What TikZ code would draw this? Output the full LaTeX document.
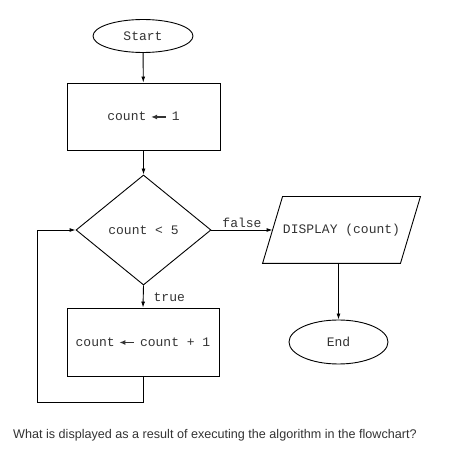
\documentclass[tikz,border=0pt]{standalone}
\usepackage{fontspec}
\setmonofont{Liberation Mono}
\newfontfamily\questionfont{Liberation Sans}
\usetikzlibrary{arrows.meta,shapes.geometric}

\definecolor{inkgray}{HTML}{333333}
\newcommand{\getsarrow}{\hspace{4pt}\tikz[baseline=-0.55ex]\draw[{Latex[length=6pt,width=5pt]}-, line width=1.4pt, inkgray] (0,0) -- (15pt,0);\hspace{5pt}}

\tikzset{
	chart/.style={draw, line width=0.9pt, inner sep=0pt, font=\ttfamily\fontsize{13}{15}\selectfont, text=inkgray},
	terminal/.style={chart, ellipse},
	process/.style={chart, rectangle},
	decision/.style={chart, diamond},
	inout/.style={chart, draw=none, rectangle},
	outline/.style={line width=0.9pt, line join=miter},
	flow/.style={->, line width=0.9pt},
	edgelabel/.style={font=\ttfamily\fontsize{13}{15}\selectfont, text=inkgray, inner sep=2pt}
}

\begin{document}
\begin{tikzpicture}[x=1pt, y=-1pt, >={Latex[length=6pt,width=4pt]}]
	\useasboundingbox (0,0) rectangle (472,462);
	% flowchart
	\node[terminal, minimum width=100, minimum height=33] (start) at (143,36) {Start};
	\node[process, minimum width=153, minimum height=67] (init) at (143.5,116.5) {count\getsarrow 1};
	\node[decision, minimum width=135, minimum height=110] (test) at (143.5,230) {count < 5};
	\node[process, minimum width=152, minimum height=68] (inc) at (143,342) {count\getsarrow count + 1};
	\node[inout, minimum width=137, minimum height=66] (disp) at (341.5,230) {DISPLAY (count)};
	\draw[outline] ([xshift=-10pt]disp.south west) -- ([xshift=10pt]disp.north west) -- ([xshift=10pt]disp.north east) -- ([xshift=-10pt]disp.south east) -- cycle;
	\node[terminal, minimum width=99, minimum height=44] (stop) at (338.5,342) {End};
	\coordinate (back) at (37,402);
	\draw[flow] (start) -- (init);
	\draw[flow] (init) -- (test);
	\draw[flow] (test.south) -- node[edgelabel, right, pos=0.55, xshift=8pt] {true} (inc.north);
	\draw[flow] (test.east) -- node[edgelabel, above] {false} (disp.west);
	\draw[flow] (disp.south -| stop.north) -- (stop.north);
	\draw[flow] (inc.south) |- (back) |- (test.west);
	% question
	\node[anchor=west, inner sep=0pt, font=\questionfont\fontsize{12.6}{15}\selectfont, text=inkgray] (question) at (13,435) {What is displayed as a result of executing the algorithm in the flowchart?};
\end{tikzpicture}
\end{document}
